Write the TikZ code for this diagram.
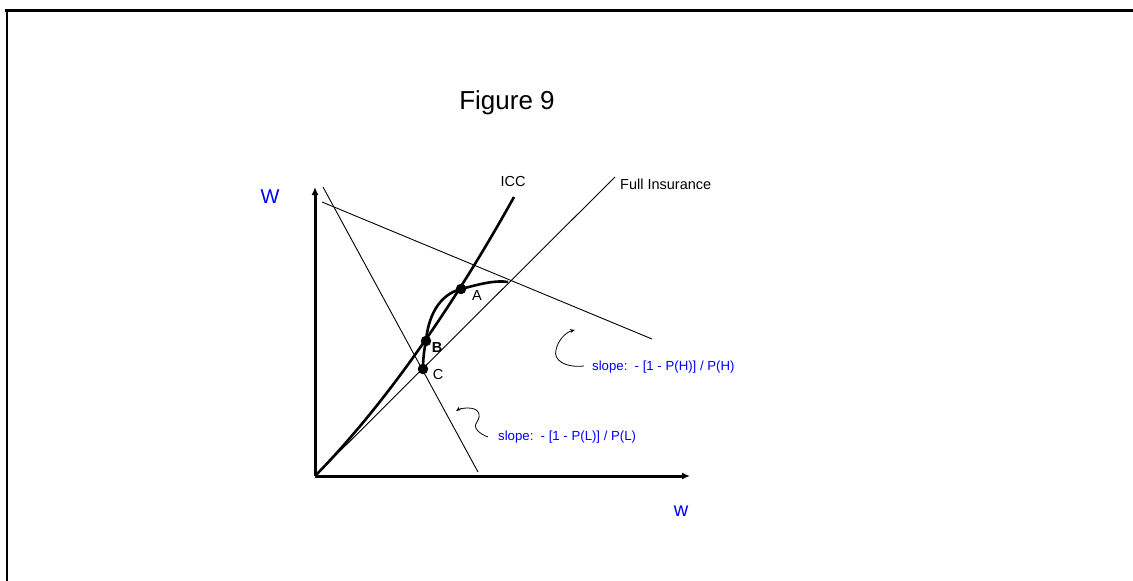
\documentclass[tikz,border=0pt]{standalone}
\usepackage{fontspec}
\setmainfont{Liberation Sans}
\usetikzlibrary{arrows.meta}
\begin{document}
\begin{tikzpicture}[x=1pt,y=-1pt,
  thinline/.style={line width=0.9pt},
  thickline/.style={line width=2.6pt},
  axisline/.style={line width=3pt,-{Latex[length=8pt,width=7pt]}},
  dot/.style={circle,fill=black,inner sep=0pt,minimum size=10.5pt},
  lbl/.style={font=\fontsize{14.5}{16}\selectfont,inner sep=0pt},
  slopelbl/.style={font=\fontsize{13.2}{15}\selectfont,text=blue,inner sep=0pt,anchor=west},
  curvearrow/.style={line width=0.8pt,-{Stealth[length=5pt,width=4pt]}}]
\useasboundingbox (0,0) rectangle (1133,581);
% frame
\coordinate (F1) at (5,10);
\coordinate (F2) at (1133,10);
\coordinate (F3) at (7,581);
\draw[line width=3pt] (F1) -- (F2);
\draw[line width=2pt] (7,10) -- (F3);
% title
\node[font=\fontsize{26}{30}\selectfont,inner sep=0pt] (title) at (507,103) {Figure 9};
% axes
\coordinate (O) at (315,476);
\coordinate (Ytop) at (315,187);
\coordinate (Xend) at (690,476);
\draw[axisline] (O) -- (Ytop);
\draw[axisline] (O) -- (Xend);
\node[font=\fontsize{20}{24}\selectfont,text=blue,inner sep=0pt] (Wlab) at (270,197) {W};
\node[font=\fontsize{20}{24}\selectfont,text=blue,inner sep=0pt] (wlab) at (681,511) {w};
% full insurance line
\coordinate (FIend) at (615,177);
\draw[thinline] (O) -- (FIend);
\node[lbl,anchor=west] (FIlab) at (620,184) {Full Insurance};
% budget lines
\coordinate (H1) at (322,202);
\coordinate (H2) at (652,339);
\draw[thinline] (H1) -- (H2);
\coordinate (L1) at (323,187);
\coordinate (L2) at (478,472);
\draw[thinline] (L1) -- (L2);
% points
\node[dot] (A) at (461,289) {};
\node[dot] (B) at (426,341) {};
\node[dot] (C) at (423,369) {};
\node[lbl] (Alab) at (477,296) {A};
\node[lbl,font=\bfseries\fontsize{14.5}{16}\selectfont] (Blab) at (437,348) {B};
\node[lbl] (Clab) at (438,375) {C};
% ICC
\coordinate (ICCend) at (514,197);
\draw[thickline] (O) .. controls (370,420) and (440,330) .. (ICCend);
\node[lbl] (ICClab) at (513,182) {ICC};
% indifference curve
\coordinate (Iend) at (508,282);
\draw[thickline] (C.center) .. controls (423,360) and (424,350) .. (B.center)
  .. controls (428,318) and (438,295) .. (A.center)
  .. controls (480,284) and (495,280) .. (Iend);
% slope labels
\node[slopelbl] (SH) at (592,367) {slope:\ \ - [1 - P(H)] / P(H)};
\node[slopelbl] (SL) at (498,437) {slope:\ \ - [1 - P(L)] / P(L)};
\coordinate (SHtip) at (575,330);
\coordinate (SLtip) at (456,411);
\draw[curvearrow] (SH.west) ++(-8,-1) .. controls (565,368) and (553,360) .. (556,350)
  .. controls (558,340) and (566,332) .. (SHtip);
\draw[curvearrow] (SL.west) ++(-10,0) .. controls (480,434) and (472,428) .. (477,422)
  .. controls (482,414) and (478,408) .. (468,408) .. controls (463,408) and (459,409) .. (SLtip);
\end{tikzpicture}
\end{document}
